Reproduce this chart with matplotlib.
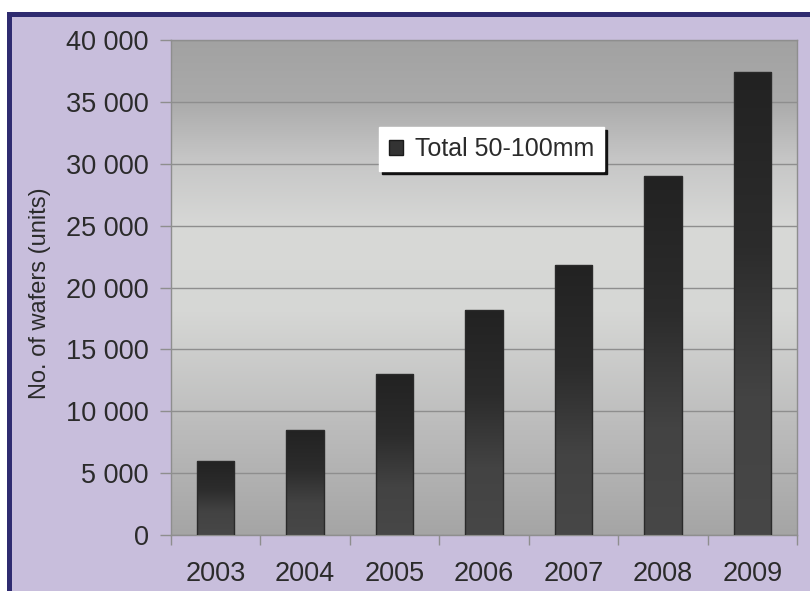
import matplotlib
matplotlib.use("Agg")
import matplotlib.pyplot as plt
import numpy as np
from matplotlib.colors import LinearSegmentedColormap
from matplotlib.patches import Rectangle, Patch

# Data
years = ["2003", "2004", "2005", "2006", "2007", "2008", "2009"]
wafers = [6000, 8500, 13000, 18200, 21800, 29000, 37400]
series_name = "Total 50-100mm"
y_ticks = [0, 5000, 10000, 15000, 20000, 25000, 30000, 35000, 40000]
y_tick_labels = ["0", "5 000", "10 000", "15 000", "20 000", "25 000", "30 000", "35 000", "40 000"]

plt.rcParams["font.family"] = ["Liberation Sans", "DejaVu Sans"]

lavender = "#c8bedc"
navy = "#2f2b70"
text_col = "#2b2b2b"

fig = plt.figure(figsize=(8.1, 5.91), dpi=100)
fig.patch.set_facecolor(lavender)

W, H = 810.0, 591.0
# white margin at top and left, navy frame lines
fig.patches.append(Rectangle((0, 1 - 12 / H), 1, 12 / H, transform=fig.transFigure,
                             facecolor="white", edgecolor="none", zorder=0))
fig.patches.append(Rectangle((0, 0), 7 / W, 1, transform=fig.transFigure,
                             facecolor="white", edgecolor="none", zorder=0))
fig.patches.append(Rectangle((7 / W, 1 - 17 / H), 1, 5 / H, transform=fig.transFigure,
                             facecolor=navy, edgecolor="none", zorder=1))
fig.patches.append(Rectangle((7 / W, 0), 5 / W, 1 - 12 / H, transform=fig.transFigure,
                             facecolor=navy, edgecolor="none", zorder=1))

ax = fig.add_axes([171 / W, 56 / H, 626 / W, 495 / H])
x = np.arange(len(years))

# plot area gradient
bg_cmap = LinearSegmentedColormap.from_list(
    "bg", [(0.0, "#a5a5a5"), (0.22, "#bcbcbc"), (0.45, "#d6d7d5"), (0.62, "#d8d9d7"),
           (0.76, "#c6c6c6"), (0.88, "#aaaaaa"), (1.0, "#a2a2a2")])
grad = np.linspace(0, 1, 256).reshape(-1, 1)
ax.imshow(grad, cmap=bg_cmap, origin="lower", aspect="auto",
          extent=[-0.5, 6.5, 0, 40000], zorder=0)

ax.grid(axis="y", color="#8e8e8e", linewidth=1.0, zorder=1)
ax.set_axisbelow(True)

bar_cmap = LinearSegmentedColormap.from_list(
    "bar", [(0.0, "#474747"), (0.3, "#434343"), (0.62, "#2c2c2c"), (1.0, "#222222")])
bars = ax.bar(x, wafers, width=0.42, color="none", edgecolor="#2a2a2a",
              linewidth=1.0, zorder=3)
for b in bars:
    im = ax.imshow(grad, cmap=bar_cmap, origin="lower", aspect="auto",
                   extent=[b.get_x(), b.get_x() + b.get_width(), 0, b.get_height()],
                   zorder=2)
    im.set_clip_path(b)

ax.set_xlim(-0.5, 6.5)
ax.set_ylim(0, 40000)

ax.set_yticks(y_ticks)
ax.set_yticklabels(y_tick_labels)
ax.set_xticks(x)
ax.set_xticklabels(years)
ax.set_xticks(np.arange(-0.5, 7, 1), minor=True)
ax.tick_params(axis="y", length=8, width=1, color="#8e8e8e", pad=8,
               labelsize=19.5, labelcolor=text_col)
ax.tick_params(axis="x", which="major", length=0, pad=19, labelsize=19.5, labelcolor=text_col)
ax.tick_params(axis="x", which="minor", length=7, width=1, color="#8e8e8e")

for s in ax.spines.values():
    s.set_color("#8e8e8e")
    s.set_linewidth(1.0)

fig.text(40 / W, 1 - 293 / H, "No. of wafers (units)", rotation=90, ha="center",
         va="center", fontsize=17, color=text_col)

handle = Patch(facecolor="#333333", edgecolor="#1a1a1a", label=series_name)
leg = ax.legend(handles=[handle], loc="upper left", bbox_to_anchor=(0.332, 0.824),
                borderaxespad=0, fontsize=18, frameon=True, fancybox=False,
                framealpha=1, edgecolor="white", facecolor="white",
                handlelength=0.55, handleheight=0.55, handletextpad=0.5,
                borderpad=0.4, shadow={"color": "#111111", "alpha": 1})
for t in leg.get_texts():
    t.set_color(text_col)

fig.savefig("out.png", dpi=100, facecolor=fig.get_facecolor())
